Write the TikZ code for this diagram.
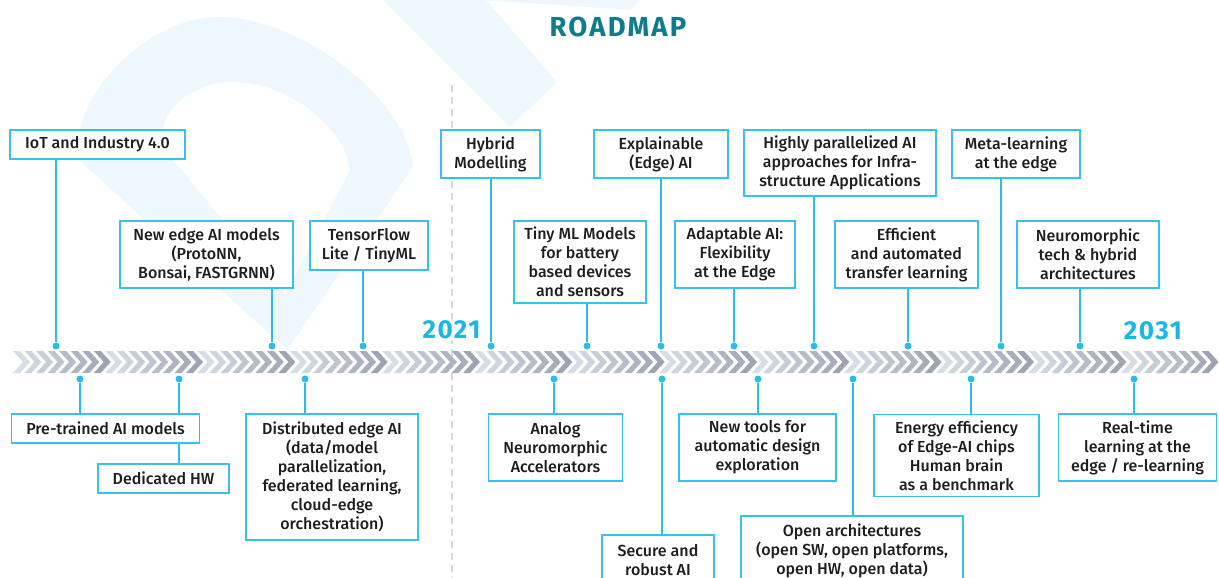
\documentclass[tikz,border=0pt]{standalone}
\usepackage{fontspec}
\setmainfont{Fira Sans}[UprightFont={* Medium}, BoldFont={* Bold}]
\usetikzlibrary{backgrounds}
\definecolor{boxblue}{HTML}{35C3EE}
\definecolor{linkblue}{HTML}{2ABDEA}
\definecolor{yearblue}{HTML}{1AB6E7}
\definecolor{titleteal}{HTML}{0D7C8C}
\definecolor{chevlight}{HTML}{D7DDE4}
\definecolor{chevdark}{HTML}{9EA4B1}
\definecolor{wmblue}{HTML}{EEF7FD}
\definecolor{dashgray}{HTML}{D5D9DF}
\definecolor{txt}{HTML}{1E1E1E}
\tikzset{
  box/.style={draw=boxblue, line width=1.6pt, fill=white, align=center, text=txt, inner sep=0pt, font=\fontsize{16}{19}\selectfont},
  dot/.style={circle, fill=linkblue, inner sep=0pt, minimum size=7pt},
  link/.style={draw=linkblue, line width=1.5pt},
  year/.style={text=yearblue, font=\bfseries\fontsize{26}{30}\selectfont\addfontfeature{LetterSpace=6}, fill=white, inner sep=1pt},
}
\begin{document}
\begin{tikzpicture}[x=1pt,y=-1pt]
\useasboundingbox (0,0) rectangle (1219,578);
\clip (0,0) rectangle (1219,578);
\node[text=titleteal, font=\bfseries\fontsize{27.5}{30}\selectfont\addfontfeature{LetterSpace=8}] (title) at (618,27){ROADMAP};
\node[year] (y2021) at (451.5,330){2021};
\node[year] (y2031) at (1153,330.5){2031};
\node[box, minimum width=175, minimum height=29] (iot) at (97.5,144.5){IoT and Industry 4.0};
\node[box, minimum width=99, minimum height=48] (hybrid) at (490.5,154){Hybrid\\Modelling};
\node[box, minimum width=134, minimum height=48] (explain) at (661,154){Explainable\\(Edge) AI};
\node[box, minimum width=192, minimum height=66] (parallel) at (840,163){Highly parallelized AI\\approaches for Infra-\\structure Applications};
\node[box, minimum width=128, minimum height=48] (meta) at (1016,154){Meta-learning\\at the edge};
\node[box, minimum width=173, minimum height=67] (newedge) at (206.5,254.5){New edge AI models\\(ProtoNN,\\Bonsai, FASTGRNN)};
\node[box, minimum width=118, minimum height=49] (tflite) at (369,245.5){TensorFlow\\Lite / TinyML};
\node[box, minimum width=132, minimum height=82] (tinyml) at (580,262){Tiny ML Models\\for battery\\based devices\\and sensors};
\node[box, minimum width=120, minimum height=67] (adapt) at (735,254.5){Adaptable AI:\\Flexibility\\at the Edge};
\node[box, minimum width=143, minimum height=67] (transfer) at (906.5,254.5){Efficient\\and automated\\transfer learning};
\node[box, minimum width=142, minimum height=67] (neuro) at (1088,254.5){Neuromorphic\\tech \& hybrid\\architectures};
\node[box, minimum width=188, minimum height=29] (pretrain) at (105.5,428.5){Pre-trained AI models};
\node[box, minimum width=131, minimum height=29] (dedhw) at (163.5,478.5){Dedicated HW};
\node[box, minimum width=172, minimum height=126] (distrib) at (332,477){Distributed edge AI\\(data/model\\parallelization,\\federated learning,\\cloud-edge\\orchestration)};
\node[box, minimum width=134, minimum height=67] (analog) at (555.5,447.5){Analog\\Neuromorphic\\Accelerators};
\node[box, minimum width=112, minimum height=51] (secure) at (658,560.5){Secure and\\robust AI};
\node[box, minimum width=157, minimum height=67] (tools) at (757.5,447.5){New tools for\\automatic design\\exploration};
\node[box, minimum width=222, minimum height=70] (openarch) at (852,551){Open architectures\\(open SW, open platforms,\\open HW, open data)};
\node[box, minimum width=165, minimum height=82] (energy) at (956.5,455.5){Energy efficiency\\of Edge-AI chips\\Human brain\\as a benchmark};
\node[box, minimum width=158, minimum height=67] (realtime) at (1137.5,447.5){Real-time\\learning at the\\edge / re-learning};
\node[dot] (d1) at (56,346){};
\node[dot] (d2) at (272,346){};
\node[dot] (d3) at (363,346){};
\node[dot] (d4) at (491,346){};
\node[dot] (d5) at (587,346){};
\node[dot] (d6) at (661,346){};
\node[dot] (d7) at (734,346){};
\node[dot] (d8) at (814,346){};
\node[dot] (d9) at (908,346){};
\node[dot] (d10) at (1001,346){};
\node[dot] (d11) at (1080,346){};
\node[dot] (u1) at (80,379){};
\node[dot] (u2) at (179,379){};
\node[dot] (u3) at (305,379){};
\node[dot] (u4) at (554,379){};
\node[dot] (u5) at (662,379){};
\node[dot] (u6) at (758,379){};
\node[dot] (u7) at (853,379){};
\node[dot] (u8) at (971,379){};
\node[dot] (u9) at (1134,379){};
\begin{scope}[on background layer]
\fill[wmblue, even odd rule] (287,350) -- (79,160) .. controls (68,95) and (150,15) .. (221,17) .. controls (300,19) and (405,95) .. (413,167) -- cycle
  (285,295) -- (165,150) .. controls (152,110) and (195,80) .. (237,82) .. controls (290,84) and (345,128) .. (350,170) -- cycle;
\fill[wmblue] (383,0) -- (486,0) -- (557,82) -- (510,127) -- cycle;
\fill[wmblue] (484,0) -- (640,0) -- (630,10) -- cycle;
\draw[dashgray, line width=2.5pt, dash pattern=on 7pt off 5pt] (452,85) -- (452,578);
\foreach \i in {0,...,103}{
  \pgfmathsetmacro\cx{13+\i*11.54}
  \pgfmathtruncatemacro\sh{mod(\i,8)*100/7}
  \fill[chevdark!\sh!chevlight] (\cx,351) -- ++(7,0) -- ++(10,11) -- ++(-10,11) -- ++(-7,0) -- ++(10,-11) -- cycle;
}
\draw[link](iot.south -| d1) -- (d1);
\draw[link](newedge.south -| d2) -- (d2);
\draw[link](tflite.south -| d3) -- (d3);
\draw[link](hybrid.south -| d4) -- (d4);
\draw[link](tinyml.south -| d5) -- (d5);
\draw[link](explain.south -| d6) -- (d6);
\draw[link](adapt.south -| d7) -- (d7);
\draw[link](parallel.south -| d8) -- (d8);
\draw[link](transfer.south -| d9) -- (d9);
\draw[link](meta.south -| d10) -- (d10);
\draw[link](neuro.south -| d11) -- (d11);
\draw[link](u1) -- (pretrain.north -| u1);
\draw[link](u2) -- (dedhw.north -| u2);
\draw[link](u3) -- (distrib.north -| u3);
\draw[link](u4) -- (analog.north -| u4);
\draw[link](u5) -- (secure.north -| u5);
\draw[link](u6) -- (tools.north -| u6);
\draw[link](u7) -- (openarch.north -| u7);
\draw[link](u8) -- (energy.north -| u8);
\draw[link](u9) -- (realtime.north -| u9);
\end{scope}
\end{tikzpicture}
\end{document}
